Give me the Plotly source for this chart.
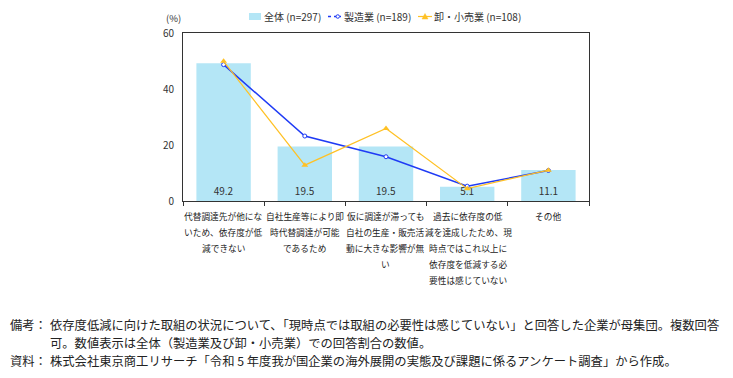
import plotly.graph_objects as go

categories = ["c1", "c2", "c3", "c4", "c5"]
category_lines = [
    ["代替調達先が他にな", "いため、依存度が低", "減できない"],
    ["自社生産等により即", "時代替調達が可能", "であるため"],
    ["仮に調達が滞っても", "自社の生産・販売活", "動に大きな影響が無", "い"],
    ["過去に依存度の低", "減を達成したため、現", "時点ではこれ以上に", "依存度を低減する必", "要性は感じていない"],
    ["その他"],
]
total_vals = [49.2, 19.5, 19.5, 5.1, 11.1]
mfg_vals = [48.7, 23.2, 15.8, 5.3, 10.9]
retail_vals = [49.9, 12.8, 25.9, 4.4, 11.0]
series_names = ["全体 (n=297)", "製造業 (n=189)", "卸・小売業 (n=108)"]
y_ticks = [0, 20, 40, 60]

FONT = "Noto Sans CJK JP"
W, H = 733, 378
OFF = 8  # page body margin offset
L, R, T, B = 183 - OFF, W - (589 - OFF), 33 - OFF, H - (201 - OFF)
BAR_C, MFG_C, RET_C = "#B4E6F6", "#1F3BF5", "#FFC125"


def px(x):
    return (x - OFF - L) / (W - L - R)


def py(y):
    return (H - (y - OFF) - B) / (H - T - B)


fig = go.Figure()
fig.add_trace(go.Bar(
    x=categories, y=total_vals, name=series_names[0], showlegend=False,
    marker=dict(color=BAR_C, line=dict(width=0)),
    width=0.67,
    text=[f"{v:.1f}" for v in total_vals], textposition="inside",
    insidetextanchor="start", textangle=0, constraintext="none",
    textfont=dict(size=10, color="#333333", family=FONT),
))
fig.add_trace(go.Scatter(
    x=categories, y=mfg_vals, name=series_names[1], mode="lines+markers",
    showlegend=False,
    line=dict(color=MFG_C, width=1.5),
    marker=dict(symbol="circle", size=4, color="white", line=dict(color=MFG_C, width=1)),
))
fig.add_trace(go.Scatter(
    x=categories, y=retail_vals, name=series_names[2], mode="lines+markers",
    showlegend=False,
    line=dict(color=RET_C, width=1.2),
    marker=dict(symbol="triangle-up", size=6, color=RET_C),
))

fig.update_layout(
    width=W, height=H,
    margin=dict(l=L, r=R, t=T, b=B, autoexpand=False),
    paper_bgcolor="white", plot_bgcolor="white",
    font=dict(family=FONT, size=10, color="#333333"),
    showlegend=False,
)
fig.update_xaxes(
    showticklabels=False, ticks="outside", tickson="boundaries", ticklen=4,
    tickcolor="#333333", showline=True, linecolor="#333333", linewidth=1,
    mirror=True, range=[-0.5, 4.5],
)
fig.update_yaxes(
    range=[0, 60], tickvals=y_ticks, showgrid=False, zeroline=False,
    showline=True, linecolor="#333333", linewidth=1, mirror=True,
    ticks="", tickfont=dict(size=10), ticklabelstandoff=6,
)

# ---- custom legend (keys drawn in page pixels) ----
LEG_Y = 16.5
# bar key
fig.add_shape(type="rect", xref="paper", yref="paper",
              x0=px(249), x1=px(261), y0=py(LEG_Y + 3.5), y1=py(LEG_Y - 3.5),
              fillcolor=BAR_C, line=dict(width=0))
# manufacturing key
fig.add_shape(type="line", xref="paper", yref="paper",
              x0=px(328), x1=px(341), y0=py(LEG_Y), y1=py(LEG_Y),
              line=dict(color=MFG_C, width=1.5, dash="dot"))
fig.add_shape(type="circle", xref="paper", yref="paper",
              x0=px(336), x1=px(339.5), y0=py(LEG_Y + 1.75), y1=py(LEG_Y - 1.75),
              fillcolor="white", line=dict(color=MFG_C, width=1))
# retail key
fig.add_shape(type="line", xref="paper", yref="paper",
              x0=px(418), x1=px(432), y0=py(LEG_Y), y1=py(LEG_Y),
              line=dict(color=RET_C, width=1.2))
tx, ty = 425, LEG_Y
fig.add_shape(type="path", xref="paper", yref="paper",
              path=f"M {px(tx-3)} {py(ty+2.5)} L {px(tx+3)} {py(ty+2.5)} L {px(tx)} {py(ty-3)} Z",
              fillcolor=RET_C, line=dict(color=RET_C, width=0.5))
for x, name in zip([262, 342, 432], series_names):
    fig.add_annotation(xref="paper", yref="paper", x=px(x), y=py(LEG_Y),
                       xanchor="left", yanchor="middle", text=name, showarrow=False,
                       font=dict(size=10, family=FONT, color="#333333"))

# category labels, one annotation per line
label_xshift = [0, 0, -1, 1, 0]
for i, lines in enumerate(category_lines):
    for j, line in enumerate(lines):
        fig.add_annotation(
            x=categories[i], xref="x", y=0, yref="paper",
            text=line, showarrow=False, yanchor="middle",
            xshift=label_xshift[i],
            yshift=-(15 + 16 * j), font=dict(size=8.7, family=FONT, color="#222222"),
        )

fig.add_annotation(x=px(173), y=py(18), xref="paper", yref="paper", text="(%)",
                   showarrow=False, xanchor="center", yanchor="middle",
                   font=dict(size=9.5))

notes = [
    (8, 325, "備考："),
    (48, 325, "依存度低減に向けた取組の状況について、「現時点では取組の必要性は感じていない」と回答した企業が母集団。複数回答"),
    (48, 343, "可。数値表示は全体（製造業及び卸・小売業）での回答割合の数値。"),
    (8, 361, "資料："),
    (48, 361, "株式会社東京商工リサーチ「令和 5 年度我が国企業の海外展開の実態及び課題に係るアンケート調査」から作成。"),
]
for x, y, t in notes:
    fig.add_annotation(xref="paper", yref="paper", x=px(x), y=py(y),
                       xanchor="left", yanchor="middle", text=t, showarrow=False,
                       font=dict(size=12.3, family=FONT, color="#222222"))

fig.write_html("out.html")
